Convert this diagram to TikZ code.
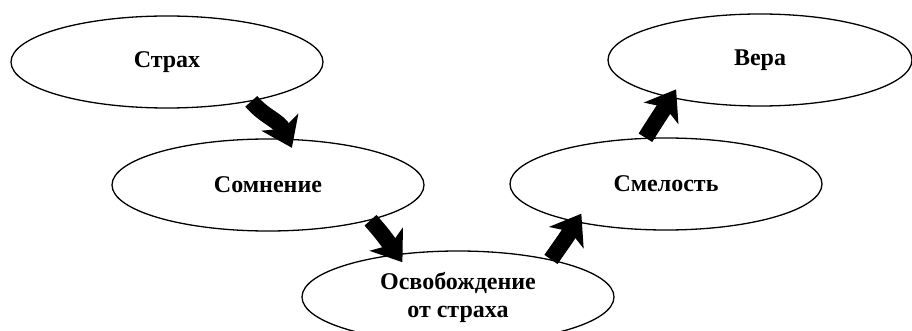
\documentclass[tikz,border=0pt]{standalone}
\usepackage{fontspec}
\setmainfont{Liberation Serif}
\usetikzlibrary{shapes.geometric, arrows.meta, positioning}

\begin{document}
\begin{tikzpicture}[
    x=1pt, y=1pt,
    stage/.style={ellipse, draw, line width=1.3pt, fill=white, minimum width=312pt, minimum height=92pt, inner sep=0pt, align=center, font=\fontsize{24}{28}\selectfont\bfseries},
    flow/.style={line width=16pt, -{Stealth[length=28pt 0, width=40pt 0, inset=7pt 0]}, shorten >=-10pt}
]
\useasboundingbox (0,0) rectangle (912,-331);

% Stages
\node[stage] (strakh) at (167,-62) {Страх};
\node[stage] (somnenie) at (268,-185) {Сомнение};
\node[stage] (osvob) at (458,-297) {Освобождение\\от страха};
\node[stage] (smelost) at (666,-184) {Смелость};
\node[stage, minimum width=304pt] (vera) at (760,-60) {Вера};

% Arrows
\draw[flow] (strakh.-25) to[out=-50, in=115] (somnenie.67);
\draw[flow] (somnenie.-19) to[out=-48, in=125] (osvob.145);
\draw[flow] (osvob.22) to[out=55, in=-122] (smelost.203);
\draw[flow] (smelost.114) to[out=58, in=-122] (vera.203);

\end{tikzpicture}
\end{document}
